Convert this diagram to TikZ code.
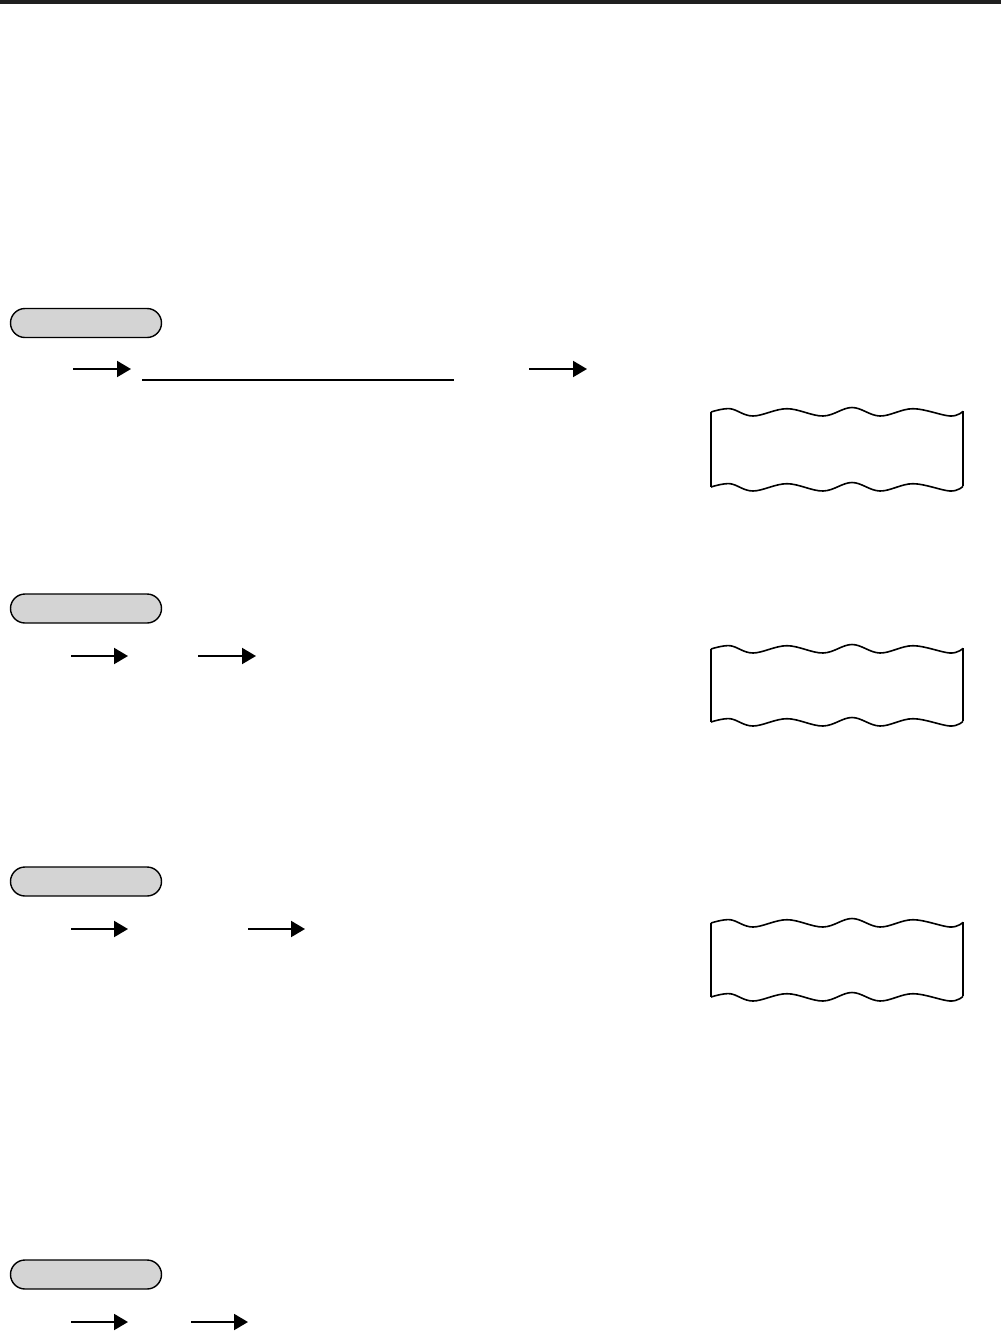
\documentclass[tikz,border=0pt]{standalone}
\usetikzlibrary{arrows.meta,shapes.misc}

\begin{document}
\begin{tikzpicture}[
  x=1pt, y=-1pt,
  pill/.style={draw, line width=1.4pt, fill=black!17, rounded rectangle, minimum width=151pt, minimum height=29pt, inner sep=0pt},
  arr/.style={-{Triangle[length=14pt,width=16pt]}, line width=2pt},
  rule/.style={line width=1.6pt},
  tape/.style={line width=1.6pt, line join=round}
]
\useasboundingbox (0,0) rectangle (1004,1331);
\fill[black!88] (0,0) rectangle (1001,4);

% section caps
\node[pill] (cap1) at (86,323) {};
\node[pill] (cap2) at (86,608.5) {};
\node[pill] (cap3) at (86,881.5) {};
\node[pill] (cap4) at (86,1274.5) {};

% step arrows, first row
\coordinate (a1s) at (73,369);   \coordinate (a1e) at (131,369);
\coordinate (u1s) at (142,380);  \coordinate (u1e) at (454,380);
\coordinate (a2s) at (529,369);  \coordinate (a2e) at (587,369);
\draw[arr] (a1s) -- (a1e);
\draw[rule] (u1s) -- (u1e);
\draw[arr] (a2s) -- (a2e);

% second row
\coordinate (b1s) at (71,656);   \coordinate (b1e) at (128,656);
\coordinate (b2s) at (198,656);  \coordinate (b2e) at (256,656);
\draw[arr] (b1s) -- (b1e);
\draw[arr] (b2s) -- (b2e);

% third row
\coordinate (c1s) at (71,929);   \coordinate (c1e) at (128,929);
\coordinate (c2s) at (248,929);  \coordinate (c2e) at (305,929);
\draw[arr] (c1s) -- (c1e);
\draw[arr] (c2s) -- (c2e);

% fourth row
\coordinate (d1s) at (71,1322);  \coordinate (d1e) at (128,1322);
\coordinate (d2s) at (191,1322); \coordinate (d2e) at (248,1322);
\draw[arr] (d1s) -- (d1e);
\draw[arr] (d2s) -- (d2e);

% receipt tapes
\foreach \ty/\by in {413/488, 650/723, 924/998} {
  \begin{scope}[shift={(711,\ty)}]
    \draw[tape] plot[smooth, tension=0.6] coordinates {(0,-1) (19,-4.3) (42,3) (76,-4.3) (112,3) (141,-5.5) (169,3) (202,-4.3) (239,3) (252,-1.7)};
  \end{scope}
  \begin{scope}[shift={(711,\by)}]
    \draw[tape] plot[smooth, tension=0.6] coordinates {(0,-1) (19,-4.3) (42,3) (76,-4.3) (112,3) (141,-5.5) (169,3) (202,-4.3) (239,3) (252,-1.7)};
  \end{scope}
  \draw[tape] (711,\ty-1) -- (711,\by-1);
  \draw[tape] (963,\ty-1.7) -- (963,\by-1.7);
}
\end{tikzpicture}
\end{document}
